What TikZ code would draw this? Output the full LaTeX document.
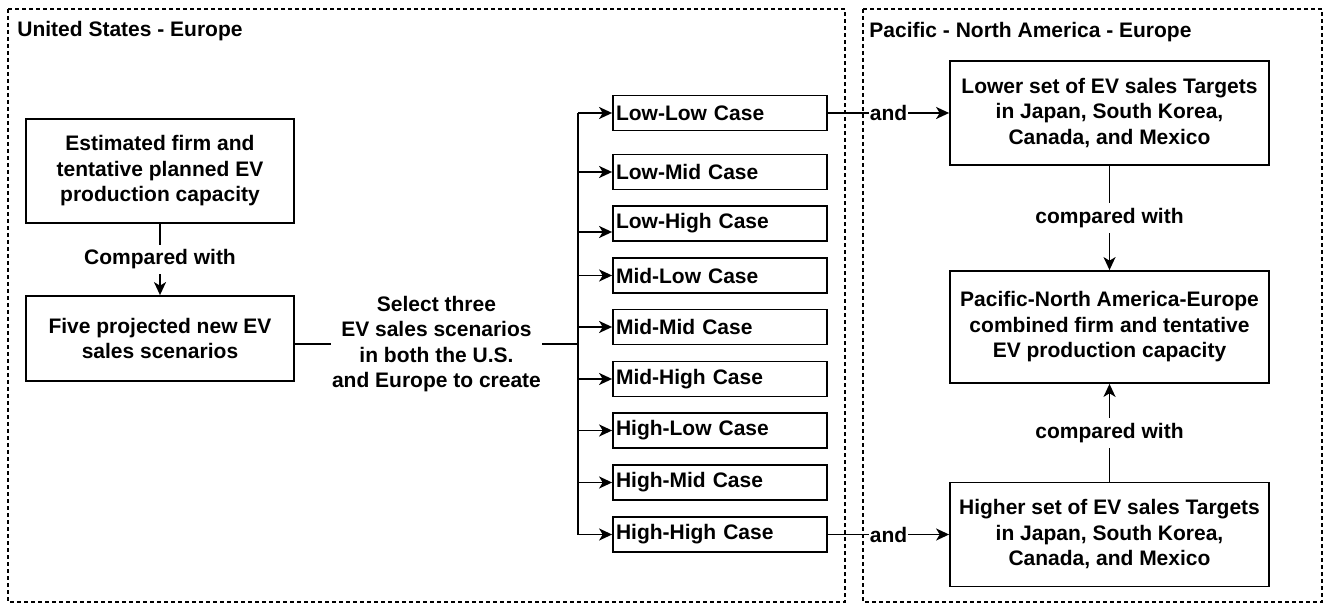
\documentclass[tikz,border=0pt]{standalone}
\usepackage{fontspec}
\setmainfont{Liberation Sans}
\usetikzlibrary{arrows.meta, positioning}

\begin{document}
\begin{tikzpicture}[x=0.5pt, y=-0.5pt,
    every node/.style={font=\bfseries\fontsize{10.5}{12.75}\selectfont},
    box/.style={draw, line width=0.9pt, align=center, inner sep=0pt},
    casebox/.style={draw, line width=0.9pt, align=left, text width=104pt, inner xsep=1.5pt, inner ysep=0pt, minimum height=17.5pt},
    lbl/.style={fill=white, inner xsep=0.5pt, inner ysep=2.5pt, align=center},
    region/.style={draw, line width=0.6pt, dash pattern=on 2pt off 1.5pt},
    arr/.style={-{Stealth[length=6.5pt,width=6pt,inset=1.8pt]}, line width=0.9pt},
    link/.style={line width=0.9pt}]
    \useasboundingbox (0,0) rectangle (1326,603);

    % Dashed regions with their titles
    \draw[region] (8,9) rectangle (845,602);
    \draw[region] (863,9) rectangle (1322,602);
    \node[anchor=west, inner sep=0pt] (ustitle) at (17,31) {United States - Europe};
    \node[anchor=west, inner sep=0pt] (pactitle) at (869,32) {Pacific - North America - Europe};

    % Left column (capacity compared with scenarios)
    \node[box, minimum width=134pt, minimum height=52pt] (est) at (160,171) {Estimated firm and\\tentative planned EV\\production capacity};
    \node[box, minimum width=134pt, minimum height=42.5pt] (five) at (160,338.5) {Five projected new EV\\sales scenarios};
    \draw[arr] (est) -- node[lbl]{Compared with} (five);

    % Selection line to the bus
    \coordinate (split) at (578,344);
    \draw[link] (five.east |- split) -- node[lbl] (select) {Select three\\EV sales scenarios\\in both the U.S.\\and Europe to create} (split);

    % Nine cases
    \node[casebox] (ll) at (720,113) {Low-Low Case};
    \node[casebox] (lm) at (720,172) {Low-Mid Case};
    \node[casebox] (lh) at (720,223.5) {Low-High Case};
    \node[casebox] (ml) at (720,275.5) {Mid-Low Case};
    \node[casebox] (mm) at (720,327) {Mid-Mid Case};
    \node[casebox] (mh) at (720,379) {Mid-High Case};
    \node[casebox] (hl) at (720,430.5) {High-Low Case};
    \node[casebox] (hm) at (720,482.5) {High-Mid Case};
    \node[casebox] (hh) at (720,534.5) {High-High Case};
    \coordinate (lhin) at ([yshift=-4.25pt]lh.west);

    \draw[link] (split |- ll) -- (split |- hh);
    \draw[arr] (split |- ll) -- (ll);
    \draw[arr] (split |- lm) -- (lm);
    \draw[arr] (split |- lhin) -- (lhin);
    \draw[arr] (split |- ml) -- (ml);
    \draw[arr] (split |- mm) -- (mm);
    \draw[arr] (split |- mh) -- (mh);
    \draw[arr] (split |- hl) -- (hl);
    \draw[arr] (split |- hm) -- (hm);
    \draw[arr] (split |- hh) -- (hh);

    % Right column (targets compared with combined capacity)
    \node[box, minimum width=159.5pt, minimum height=52pt] (lower) at (1109.5,113) {Lower set of EV sales Targets\\in Japan, South Korea,\\Canada, and Mexico};
    \node[box, minimum width=159.5pt, minimum height=56pt] (comb) at (1109.5,327) {Pacific-North America-Europe\\combined firm and tentative\\EV production capacity};
    \node[box, minimum width=159.5pt, minimum height=52pt] (higher) at (1109.5,534.5) {Higher set of EV sales Targets\\in Japan, South Korea,\\Canada, and Mexico};

    \draw[arr] (ll) -- node[lbl]{and} (lower);
    \draw[arr] (hh) -- node[lbl]{and} (higher);
    \draw[arr] (lower) -- node[lbl]{compared with} (comb);
    \draw[arr] (higher) -- node[lbl]{compared with} (comb);
\end{tikzpicture}
\end{document}
